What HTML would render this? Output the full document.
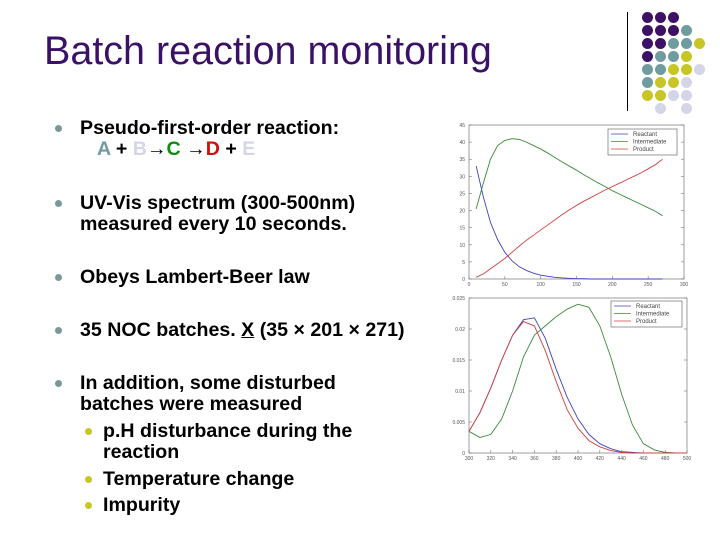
<!DOCTYPE html>
<html><head><meta charset="utf-8"><style>
body{margin:0;width:720px;height:540px;background:#fff;position:relative;overflow:hidden;font-family:"Liberation Sans",Arial,sans-serif}
.t{position:absolute;font-weight:bold;font-size:19.6px;color:#000;white-space:nowrap;line-height:21px}
.b{position:absolute;width:7px;height:7px;border-radius:50%;background:#7a9898}
.d{position:absolute;width:11px;height:11px;border-radius:50%}
</style></head><body>
<div style="position:absolute;left:44px;top:29px;font-size:39.5px;color:#3a1166;white-space:nowrap">Batch reaction monitoring</div>
<div style="position:absolute;left:627px;top:12px;width:1px;height:99px;background:#000"></div>
<div id="dots"></div>

<div class="b" style="left:55px;top:125px"></div>
<div class="t" style="left:80px;top:118px">Pseudo-first-order reaction:<br><span style="padding-left:17px"><span style="color:#6f9d9f">A</span> + <span style="color:#d4d6e8">B</span>→<span style="color:#138a13">C</span> →<span style="color:#d01010">D</span> + <span style="color:#d4d6e8">E</span></span></div>
<div class="b" style="left:55px;top:200px"></div>
<div class="t" style="left:80px;top:193px">UV-Vis spectrum (300-500nm)<br>measured every 10 seconds.</div>
<div class="b" style="left:55px;top:274px"></div>
<div class="t" style="left:80px;top:267px">Obeys Lambert-Beer law</div>
<div class="b" style="left:55px;top:327px"></div>
<div class="t" style="left:80px;top:320px">35 NOC batches. <u>X</u> (35 × 201 × 271)</div>
<div class="b" style="left:55px;top:380px"></div>
<div class="t" style="left:80px;top:373px">In addition, some disturbed<br>batches were measured</div>
<div class="b" style="left:85px;top:428px;background:#c8c624"></div>
<div class="t" style="left:103px;top:421px">p.H disturbance during the<br>reaction</div>
<div class="b" style="left:85px;top:476px;background:#c8c624"></div>
<div class="t" style="left:103px;top:469px">Temperature change</div>
<div class="b" style="left:85px;top:502px;background:#c8c624"></div>
<div class="t" style="left:103px;top:495px">Impurity</div>

<svg id="c1" width="720" height="540" style="position:absolute;left:0;top:0"></svg>

<script>
// decorative dots
const dotRows=["PPP","PPPT","PPTTY","PTTY","TTYYL","TYYL","YYLL"," L L"];
const dotCol={P:"#3d1166",T:"#6f9d9f",Y:"#c8c624",L:"#d4d6e8"};
const dotsEl=document.getElementById('dots');
dotRows.forEach((r,i)=>{[...r].forEach((c,j)=>{if(c===' ')return;
const e=document.createElement('div');e.className='d';


e.style.left=(642+13*j)+'px';e.style.top=(12+13*i)+'px';e.style.background=dotCol[c];dotsEl.appendChild(e);});});

// chart 1 data (time)
const timeX=[10,20,30,40,50,60,70,80,90,100,110,120,130,140,150,160,170,180,190,200,210,220,230,240,250,260,270];
const reactant1=[33,24,16.5,11.5,7.8,5.3,3.6,2.5,1.7,1.1,0.8,0.5,0.3,0.2,0.1,0.1,0,0,0,0,0,0,0,0,0,0,0];
const intermediate1=[20.5,28,35,39,40.5,41,40.8,40,39,38,36.8,35.5,34.2,33,31.8,30.5,29.3,28.1,27,25.8,24.8,23.8,22.8,21.8,20.8,19.8,18.5];
const product1=[0.5,1.5,3,4.5,6,7.8,9.6,11.3,12.8,14.3,15.8,17.3,18.8,20.2,21.5,22.7,23.8,24.9,26,27,28,29,30,31,32.2,33.4,35];
const yTicks1=[0,5,10,15,20,25,30,35,40,45];
const xTicks1=[0,50,100,150,200,250,300];
// chart 2 data (spectra)
const waveX=[300,310,320,330,340,350,360,370,380,390,400,410,420,430,440,450,460,470,480,490,500];
const reactant2=[0.0035,0.0065,0.0105,0.015,0.019,0.0215,0.0218,0.0185,0.0135,0.009,0.0055,0.003,0.0015,0.0007,0.0002,0.0001,0,0,0,0,0];
const intermediate2=[0.0035,0.0025,0.003,0.0055,0.01,0.0155,0.019,0.0205,0.022,0.0232,0.024,0.0235,0.0205,0.0155,0.0095,0.0045,0.0015,0.0005,0.0001,0,0];
const product2=[0.0035,0.0065,0.0105,0.015,0.019,0.0212,0.0205,0.0165,0.0115,0.007,0.004,0.002,0.001,0.0004,0.0001,0,0,0,0,0,0];
const yTicks2=[0,0.005,0.01,0.015,0.02,0.025];
const yLabels2=["0","0.005","0.01","0.015","0.02","0.025"];
const xTicks2=[300,320,340,360,380,400,420,440,460,480,500];
const seriesNames=["Reactant","Intermediate","Product"];
const colors=["#4040c0","#3a8a3a","#d04040"];

const svg=document.getElementById('c1');
const NS="http://www.w3.org/2000/svg";
function el(t,a,p){const e=document.createElementNS(NS,t);for(const k in a)e.setAttribute(k,a[k]);(p||svg).appendChild(e);return e;}

function chart(name,box,xd,yd,xt,yt,ylab,xs,ys,legend){
  const g=el('g',{});
  
  
  const sx=v=>box.x+(v-xd[0])/(xd[1]-xd[0])*box.w;
  const sy=v=>box.y+box.h-(v-yd[0])/(yd[1]-yd[0])*box.h;
  const r=el('rect',{x:box.x,y:box.y,width:box.w,height:box.h,fill:'none',stroke:'#777','stroke-width':0.7},g);
  
  
  yt.forEach((v,i)=>{const y=sy(v);
    el('line',{x1:box.x,x2:box.x+3,y1:y,y2:y,stroke:'#777','stroke-width':0.6},g);
    el('line',{x1:box.x+box.w-3,x2:box.x+box.w,y1:y,y2:y,stroke:'#777','stroke-width':0.6},g);
    const t=el('text',{x:box.x-4,y:y+2,'font-size':5,'text-anchor':'end',fill:'#555'},g);
    
    
    t.textContent=ylab?ylab[i]:v;});
  xt.forEach(v=>{const x=sx(v);
    el('line',{x1:x,x2:x,y1:box.y+box.h,y2:box.y+box.h-3,stroke:'#777','stroke-width':0.6},g);
    const t=el('text',{x:x,y:box.y+box.h+7,'font-size':5,'text-anchor':'middle',fill:'#555'},g);
    
    
    t.textContent=v;});
  ys.forEach((s,k)=>{
    const p=el('polyline',{points:s.map((v,i)=>sx(xs[i])+','+sy(v)).join(' '),fill:'none',stroke:colors[k],'stroke-width':0.9},g);
    
    
  });
  const lg=el('g',{},g);
  
  
  el('rect',{x:legend.x,y:legend.y,width:legend.w,height:26,fill:'#fff',stroke:'#555','stroke-width':0.6},lg);
  seriesNames.forEach((n,k)=>{const y=legend.y+5+k*7.5;
    el('line',{x1:legend.x+3,x2:legend.x+20,y1:y,y2:y,stroke:colors[k],'stroke-width':0.8},lg);
    const t=el('text',{x:legend.x+25,y:y+2,'font-size':6,fill:'#444'},lg);
    
    
    t.textContent=n;});
}
chart('concentration-plot',{x:469,y:125,w:215,h:154},[0,300],[0,45],xTicks1,yTicks1,null,timeX,[reactant1,intermediate1,product1],{x:608,y:129,w:69});
chart('spectra-plot',{x:469,y:298,w:218,h:155},[300,500],[0,0.025],xTicks2,yTicks2,yLabels2,waveX,[reactant2,intermediate2,product2],{x:611,y:301,w:71});
</script>
</body></html>
